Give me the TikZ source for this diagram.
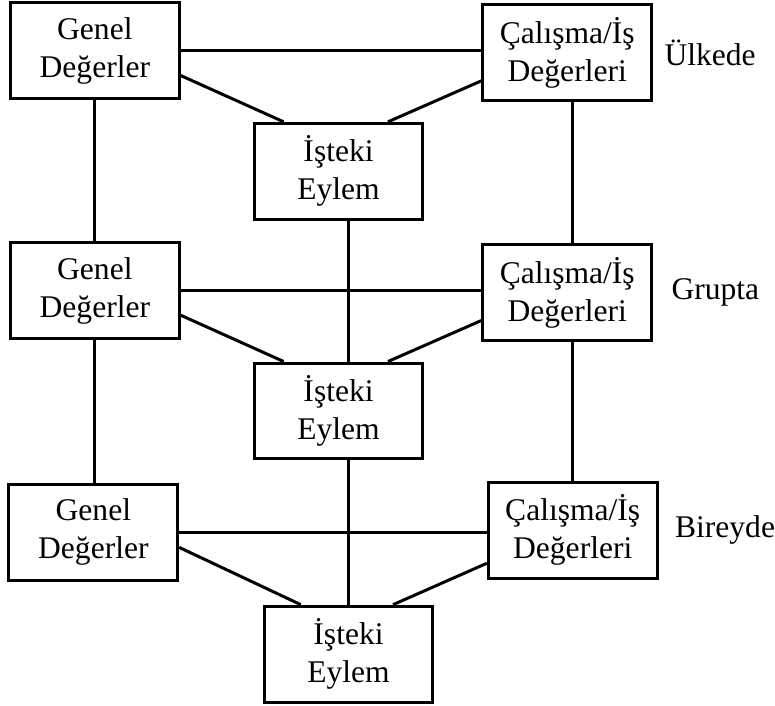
\documentclass[tikz,border=0pt]{standalone}
\usepackage{fontspec}
\setmainfont{Liberation Serif}
\usetikzlibrary{positioning,calc}

\begin{document}
\begin{tikzpicture}[line width=1.5pt, on grid,
	box node/.style={rectangle,draw,align=center,inner sep=0pt,
		font=\fontsize{15.8}{19}\selectfont, minimum width = 84.5pt, minimum height = 48pt},
	side label/.style={inner sep=0pt,font=\fontsize{15.8}{19}\selectfont}]

    % country level
    \node[box node] (G1) {Genel\\Değerler};
    \node[box node] (C1) [below right = 1pt and 236.5pt of G1] {Çalışma/İş\\Değerleri};
    \node[box node] (E1) [below right = 60.25pt and 122pt of G1] {İşteki\\Eylem};
    % group level
    \node[box node] (G2) [below = 120pt of G1] {Genel\\Değerler};
    \node[box node] (C2) [below = 120pt of C1] {Çalışma/İş\\Değerleri};
    \node[box node] (E2) [below = 120pt of E1] {İşteki\\Eylem};
    % individual level
    \node[box node] (G3) [below left = 121pt and 0.75pt of G2] {Genel\\Değerler};
    \node[box node] (C3) [below right = 119pt and 2.75pt of C2] {Çalışma/İş\\Değerleri};
    \node[box node] (E3) [below right = 121.75pt and 5pt of E2] {İşteki\\Eylem};

    \node[side label] (L1) [right = 5pt of C1.east, anchor=west] {Ülkede};
    \node[side label] (L2) [right = 8.5pt of C2.east, anchor=west] {Grupta};
    \node[side label] (L3) [right = 7.5pt of C3.east, anchor=west] {Bireyde};

    \path
	(G1.east) edge (G1.east -| C1.west)
	(G2.east) edge (G2.east -| C2.west)
	(G3.east) edge (G3.east -| C3.west)
	(G1.-16) edge (E1.138)
	(E1.45) edge (C1.-162)
	(G2.-16) edge (E2.138)
	(E2.45) edge (C2.-162)
	(G3.-10) edge (E3.134)
	(E3.48) edge (C3.-159)
	(G1) edge (G2)
	(G2.south) edge (G2.south |- G3.north)
	(C1.south -| C3.north) edge (C2.north -| C3.north)
	(C2.south -| C3.north) edge (C3.north)
	(E1.south -| E3.north) edge (E2.north -| E3.north)
	(E2.south -| E3.north) edge (E3.north)
	;

    \useasboundingbox ($(G1.center)+(-47.5pt,25.5pt)$) rectangle ++(387.5pt,-353pt);
\end{tikzpicture}
\end{document}
